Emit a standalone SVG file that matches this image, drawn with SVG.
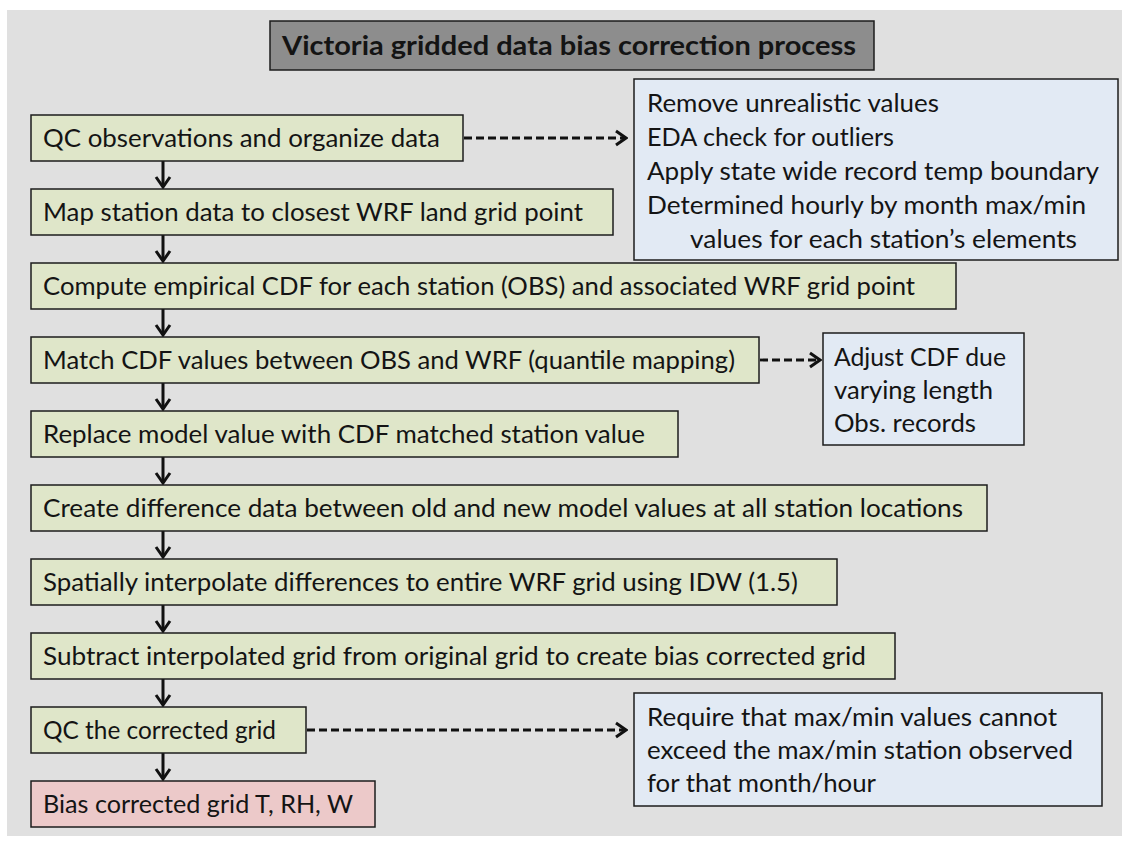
<svg xmlns="http://www.w3.org/2000/svg" width="1122" height="843" viewBox="0 0 1122 843">
  <defs>
    <style>
      .step { fill: #dfe6c9; stroke: #1c1c1c; stroke-width: 1.5; }
      .note { fill: #e2eaf4; stroke: #1c1c1c; stroke-width: 1.5; }
      .final { fill: #ecc9c9; stroke: #1c1c1c; stroke-width: 1.5; }
      .head { fill: #8d8d8d; stroke: #1c1c1c; stroke-width: 1.5; }
      text { font-family: Lato, "Liberation Sans", sans-serif; font-size: 25px; fill: #141414; }
      .title { font-weight: bold; font-size: 27px; }
      .flow { stroke: #111; stroke-width: 3; fill: none; }
      .aside { stroke: #111; stroke-width: 2.8; fill: none; stroke-dasharray: 8 4; }
    </style>
    <marker id="chev" markerUnits="userSpaceOnUse" viewBox="-13 -9 15 18" markerWidth="15" markerHeight="18" refX="0" refY="0" orient="auto">
      <path d="M-10,-7 L0,0 L-10,7" fill="none" stroke="#111" stroke-width="3" stroke-dasharray="none"/>
    </marker>
  </defs>

  <!-- panel -->
  <rect x="0" y="0" width="1122" height="843" fill="#ffffff"/>
  <rect x="7" y="10" width="1115" height="826" fill="#e0e0e0"/>

  <!-- heading -->
  <g id="title">
    <rect class="head" x="270" y="21" width="604" height="49"/>
    <text class="title" x="282" y="55" textLength="574" lengthAdjust="spacingAndGlyphs">Victoria gridded data bias correction process</text>
  </g>

  <!-- connectors -->
  <g id="connectors">
    <line class="flow" x1="163" y1="161" x2="163" y2="187" marker-end="url(#chev)"/>
    <line class="flow" x1="163" y1="235" x2="163" y2="261" marker-end="url(#chev)"/>
    <line class="flow" x1="163" y1="309" x2="163" y2="335" marker-end="url(#chev)"/>
    <line class="flow" x1="163" y1="383" x2="163" y2="409" marker-end="url(#chev)"/>
    <line class="flow" x1="163" y1="457" x2="163" y2="483" marker-end="url(#chev)"/>
    <line class="flow" x1="163" y1="531" x2="163" y2="557" marker-end="url(#chev)"/>
    <line class="flow" x1="163" y1="605" x2="163" y2="631" marker-end="url(#chev)"/>
    <line class="flow" x1="163" y1="679" x2="163" y2="705" marker-end="url(#chev)"/>
    <line class="flow" x1="163" y1="753" x2="163" y2="779" marker-end="url(#chev)"/>
    <line class="aside" x1="464" y1="138" x2="626" y2="138" marker-end="url(#chev)"/>
    <line class="aside" x1="760" y1="360" x2="820" y2="360" marker-end="url(#chev)"/>
    <line class="aside" x1="307" y1="730" x2="626" y2="730" marker-end="url(#chev)"/>
  </g>

  <!-- process steps -->
  <g id="qc-obs">
    <rect class="step" x="31" y="115" width="432" height="46"/>
    <text x="43" y="147" textLength="397" lengthAdjust="spacingAndGlyphs">QC observations and organize data</text>
  </g>
  <g id="map-station">
    <rect class="step" x="31" y="189" width="582" height="46"/>
    <text x="43" y="221" textLength="540" lengthAdjust="spacingAndGlyphs">Map station data to closest WRF land grid point</text>
  </g>
  <g id="compute-cdf">
    <rect class="step" x="31" y="263" width="925" height="46"/>
    <text x="43" y="295" textLength="872" lengthAdjust="spacingAndGlyphs">Compute empirical CDF for each station (OBS) and associated WRF grid point</text>
  </g>
  <g id="match-cdf">
    <rect class="step" x="31" y="337" width="728" height="46"/>
    <text x="43" y="369" textLength="692" lengthAdjust="spacingAndGlyphs">Match CDF values between OBS and WRF (quantile mapping)</text>
  </g>
  <g id="replace-value">
    <rect class="step" x="31" y="411" width="647" height="46"/>
    <text x="43" y="443" textLength="602" lengthAdjust="spacingAndGlyphs">Replace model value with CDF matched station value</text>
  </g>
  <g id="difference">
    <rect class="step" x="31" y="485" width="956" height="46"/>
    <text x="43" y="517" textLength="920" lengthAdjust="spacingAndGlyphs">Create difference data between old and new model values at all station locations</text>
  </g>
  <g id="interpolate">
    <rect class="step" x="31" y="559" width="806" height="46"/>
    <text x="43" y="591" textLength="755" lengthAdjust="spacingAndGlyphs">Spatially interpolate differences to entire WRF grid using IDW (1.5)</text>
  </g>
  <g id="subtract">
    <rect class="step" x="31" y="633" width="864" height="46"/>
    <text x="43" y="665" textLength="823" lengthAdjust="spacingAndGlyphs">Subtract interpolated grid from original grid to create bias corrected grid</text>
  </g>
  <g id="qc-grid">
    <rect class="step" x="31" y="707" width="275" height="46"/>
    <text x="43" y="739" textLength="233" lengthAdjust="spacingAndGlyphs">QC the corrected grid</text>
  </g>
  <g id="result">
    <rect class="final" x="31" y="781" width="344" height="46"/>
    <text x="43" y="813" textLength="310" lengthAdjust="spacingAndGlyphs">Bias corrected grid T, RH, W</text>
  </g>

  <!-- side notes -->
  <g id="qc-rules">
    <rect class="note" x="634" y="79" width="484" height="181"/>
    <text x="647" y="112" textLength="292" lengthAdjust="spacingAndGlyphs">Remove unrealistic values</text>
    <text x="647" y="146" textLength="247" lengthAdjust="spacingAndGlyphs">EDA check for outliers</text>
    <text x="647" y="180" textLength="452" lengthAdjust="spacingAndGlyphs">Apply state wide record temp boundary</text>
    <text x="647" y="214" textLength="439" lengthAdjust="spacingAndGlyphs">Determined hourly by month max/min</text>
    <text x="690" y="248" textLength="387" lengthAdjust="spacingAndGlyphs">values for each station’s elements</text>
  </g>
  <g id="cdf-adjust">
    <rect class="note" x="823" y="333" width="201" height="112"/>
    <text x="834" y="366" textLength="172" lengthAdjust="spacingAndGlyphs">Adjust CDF due</text>
    <text x="834" y="399" textLength="159" lengthAdjust="spacingAndGlyphs">varying length</text>
    <text x="834" y="432" textLength="142" lengthAdjust="spacingAndGlyphs">Obs. records</text>
  </g>
  <g id="grid-limits">
    <rect class="note" x="634" y="693" width="468" height="113"/>
    <text x="647" y="726" textLength="410" lengthAdjust="spacingAndGlyphs">Require that max/min values cannot</text>
    <text x="647" y="759" textLength="426" lengthAdjust="spacingAndGlyphs">exceed the max/min station observed</text>
    <text x="647" y="792" textLength="229" lengthAdjust="spacingAndGlyphs">for that month/hour</text>
  </g>
</svg>
